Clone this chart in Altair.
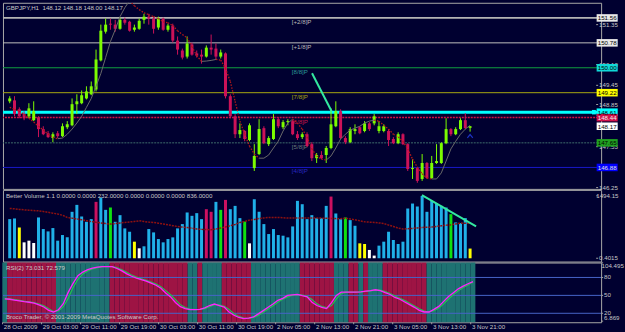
import altair as alt
import pandas as pd

BG = "#000030"
FONT = "Liberation Sans"
FS = 6.2
TXT = "#C8C8C8"
GRID = "#A8A8A8"

# ---------------- data ----------------
BARS = list(range(97))
OPEN = [148.95, 148.98, 148.70, 148.55, 148.48, 148.36, 148.45, 148.08, 147.95, 147.80,
        147.95, 147.86, 148.14, 148.20, 148.86, 148.89, 149.04, 149.17, 149.32, 150.23,
        151.13, 151.38, 151.35, 151.22, 151.50, 151.44, 151.19, 151.22, 151.50, 151.60,
        151.54, 151.26, 151.54, 151.19, 151.32, 150.85, 150.54, 150.35, 150.73, 150.45,
        150.41, 150.35, 150.63, 150.60, 150.35, 150.45, 149.11, 148.48, 147.92, 148.02,
        147.74, 146.86, 147.30, 148.11, 147.61, 147.77, 148.39, 148.14, 148.30, 148.33,
        147.92, 147.83, 147.92, 147.61, 147.17, 147.27, 147.27, 147.49, 148.17, 148.64,
        147.80, 147.67, 148.02, 148.14, 148.02, 148.26, 148.26, 148.02, 148.02, 148.02,
        147.77, 147.64, 147.92, 147.61, 146.83, 146.86, 146.52, 147.02, 146.55, 147.02,
        147.02, 147.64, 148.08, 147.92, 148.08, 148.36, 148.12]
HIGH = [149.11, 149.11, 148.76, 148.64, 148.89, 148.95, 148.48, 148.17, 148.02, 147.98,
        148.02, 148.26, 148.33, 149.04, 149.17, 149.29, 149.42, 149.57, 150.57, 151.35,
        151.54, 151.54, 151.50, 151.57, 151.57, 151.47, 151.35, 151.54, 151.69, 151.69,
        151.60, 151.60, 151.57, 151.38, 151.38, 150.98, 150.60, 150.98, 150.79, 150.54,
        150.57, 150.70, 151.04, 150.76, 150.57, 150.48, 149.17, 148.55, 148.26, 148.05,
        148.26, 147.61, 148.39, 148.17, 147.86, 148.55, 148.45, 148.36, 148.39, 148.36,
        148.02, 147.98, 147.98, 147.67, 147.33, 147.39, 147.55, 148.73, 148.95, 148.70,
        147.86, 148.14, 148.23, 148.17, 148.33, 148.30, 148.55, 148.33, 148.23, 148.08,
        147.83, 147.98, 147.95, 147.64, 147.14, 146.89, 147.30, 147.05, 147.24, 147.61,
        147.67, 148.42, 148.11, 148.14, 148.42, 148.58, 148.18]
LOW = [148.89, 148.48, 148.42, 148.36, 148.42, 148.33, 147.83, 147.89, 147.80, 147.67,
       147.80, 147.83, 148.08, 148.17, 148.55, 148.86, 149.01, 149.14, 149.26, 150.20,
       151.07, 151.19, 151.13, 151.19, 151.35, 151.13, 151.13, 151.19, 151.38, 151.35,
       151.07, 151.19, 151.16, 151.13, 150.79, 150.41, 150.26, 150.29, 150.38, 150.32,
       150.13, 150.32, 150.41, 150.26, 150.29, 149.04, 148.42, 147.80, 147.80, 147.70,
       147.70, 146.77, 147.27, 147.61, 147.55, 147.74, 148.11, 148.08, 148.20, 147.89,
       147.74, 147.77, 147.52, 147.08, 147.02, 147.14, 147.02, 147.45, 148.14, 147.77,
       147.61, 147.64, 147.92, 147.92, 147.98, 148.02, 148.20, 147.95, 147.98, 147.55,
       147.61, 147.61, 147.58, 146.77, 146.52, 146.40, 146.46, 146.52, 146.52, 146.99,
       146.99, 147.61, 147.86, 147.89, 148.05, 148.08, 148.00]
CLOSE = [149.04, 148.55, 148.48, 148.42, 148.73, 148.64, 148.08, 147.92, 147.83, 147.92,
         147.86, 148.17, 148.23, 148.86, 148.95, 149.14, 149.26, 149.42, 150.26, 151.16,
         151.35, 151.35, 151.22, 151.50, 151.41, 151.16, 151.26, 151.47, 151.60, 151.54,
         151.22, 151.54, 151.19, 151.32, 150.85, 150.57, 150.32, 150.76, 150.41, 150.38,
         150.35, 150.63, 150.57, 150.35, 150.48, 149.11, 148.48, 147.92, 148.05, 147.77,
         148.20, 147.24, 148.08, 147.64, 147.80, 148.39, 148.17, 148.30, 148.33, 147.92,
         147.80, 147.92, 147.55, 147.17, 147.27, 147.17, 147.49, 148.23, 148.64, 147.80,
         147.67, 148.08, 148.08, 147.95, 148.26, 148.08, 148.48, 148.17, 148.17, 147.74,
         147.64, 147.92, 147.61, 146.83, 146.86, 146.46, 147.02, 146.55, 147.02, 147.08,
         147.64, 148.08, 147.92, 148.08, 148.36, 148.11, 148.17]
TREND_MA = [148.76, 148.70, 148.64, 148.54, 148.42, 148.30, 148.17, 148.05, 147.92, 147.83,
            147.78, 147.80, 147.92, 148.08, 148.27, 148.48, 148.76, 149.04, 149.42, 149.82,
            150.32, 150.82, 151.19, 151.60, 151.88, 152.10, 151.94, 151.82, 151.72, 151.66,
            151.60, 151.54, 151.44, 151.41, 151.32, 151.16, 151.04, 150.94, 150.66, 150.38,
            150.20, 150.21, 150.23, 150.26, 150.24, 149.98, 149.57, 148.95, 148.33, 147.92,
            147.55, 147.30, 147.17, 147.17, 147.27, 147.49, 147.70, 148.02, 148.27, 148.39,
            148.27, 148.08, 147.83, 147.46, 147.24, 147.14, 147.11, 147.24, 147.49, 147.77,
            147.92, 148.05, 148.11, 148.17, 148.27, 148.33, 148.36, 148.33, 148.20, 148.08,
            147.92, 147.83, 147.70, 147.46, 147.14, 146.89, 146.68, 146.55, 146.52, 146.52,
            146.71, 147.08, 147.46, 147.70, 147.92, 148.08, 148.20]

VOLUME = [937, 953, 738, 381, 421, 365, 977, 699, 643, 723,
          421, 556, 500, 1112, 1278, 1000, 873, 937, 1350, 1453,
          1159, 1215, 873, 1032, 715, 635, 397, 238, 286, 699,
          619, 460, 381, 460, 500, 715, 818, 1096, 1016, 1080,
          937, 1175, 1112, 1350, 1159, 1397, 1175, 1254, 961, 881,
          357, 1413, 1112, 818, 580, 699, 556, 540, 500, 762,
          1374, 1294, 937, 1032, 961, 961, 1254, 1477, 1072, 937,
          977, 913, 778, 357, 341, 199, 64, 302, 397, 635,
          437, 341, 397, 1191, 1310, 1239, 1490, 1112, 1374, 1318,
          1254, 1215, 1056, 858, 842, 961, 232]
VOL_CODES = "".join(["bbywww", "bbbbbbbbbbbb", "m", "bb", "g", "bbbb", "y", "w",
                     "bbbbbbbbbbbbb", "mm", "b", "g", "m", "bbb", "g", "w",
                     "bbbbbbbbbbbbbbbb", "m", "bb", "g", "bb", "yy", "ww",
                     "bbbbbbbbbbbbbbb", "g", "bbb", "y"])
VOL_MA = [1191, 1185, 1170, 1159, 1150, 1142, 1135, 1120, 1100, 1080,
          1060, 1030, 977, 960, 940, 921, 900, 880, 860, 845,
          830, 818, 830, 845, 858, 870, 880, 897, 880, 865,
          858, 840, 820, 800, 780, 760, 746, 735, 720, 699,
          692, 688, 683, 700, 722, 750, 778, 810, 858, 880,
          913, 930, 953, 965, 977, 977, 977, 970, 961, 961,
          961, 961, 961, 961, 961, 961, 957, 953, 949, 945,
          961, 940, 921, 897, 873, 865, 858, 845, 834, 794,
          762, 722, 699, 707, 715, 726, 738, 742, 746, 762,
          778, 790, 802, 822, 842, 840, 836]

RSI = [44, 43.5, 42, 40.8, 39.5, 38.5, 37, 34, 30.5, 25,
       22, 26, 36, 55, 70, 83, 89, 93, 95.5, 97.5,
       98.3, 98.3, 98, 95, 91, 86, 82, 79, 76.5, 74,
       70.5, 67, 62, 54, 47.5, 38, 31, 28, 26.3, 26.3,
       26.7, 29, 33, 35.5, 33, 30.5, 22, 16.7, 13, 11.1,
       12, 13.9, 19, 24.5, 30, 35.5, 41.7, 45, 50, 51,
       51.7, 49.5, 47.5, 38.5, 33, 30, 28, 38, 50, 55.5,
       55.5, 55.5, 55.5, 56, 57, 58, 59.4, 58, 54.5, 51.5,
       46.5, 43.5, 39, 34.5, 30, 25, 22.2, 22.2, 26.5, 31.5,
       40, 48, 54.5, 61, 65.5, 69.5, 73.031]
RSI_SIGNAL = [44.5, 44, 42.8, 41.5, 40.2, 39, 37.8, 35.5, 32.5, 27.5,
              23, 24, 31, 45, 63, 77, 86, 91, 94.3, 96.5,
              98, 98.3, 98.2, 96.5, 93, 88.5, 84, 80.5, 77.8, 75.2,
              72.3, 68.8, 64.5, 58, 51, 42.8, 34.5, 29.5, 27, 26.3,
              26.5, 27.8, 31, 34.3, 34.3, 31.8, 26.3, 19.4, 14.8, 12,
              11.5, 13, 16.5, 21.8, 27.3, 32.8, 38.6, 43.4, 47.5, 50.5,
              51.4, 50.6, 48.5, 43, 35.8, 31.5, 29, 33, 44, 52.8,
              55.5, 55.5, 55.5, 55.8, 56.5, 57.5, 58.7, 58.7, 56.3, 53,
              49, 45, 41.2, 36.8, 32.3, 27.5, 23.6, 22.2, 24.3, 29,
              35.8, 44, 51.3, 57.8, 63.3, 67.5, 72.579]
BAND_RUNS = [("t", 1), ("c", 10), ("t", 11), ("c", 16), ("t", 2), ("c", 1), ("t", 4),
             ("c", 6), ("t", 10), ("c", 7), ("t", 3), ("c", 2), ("t", 1), ("c", 1),
             ("t", 3), ("c", 9), ("t", 10)]

TIME_BARS = [0, 8, 16, 24, 32, 40, 48, 56, 64, 72, 80, 88, 96]
TIME_LABELS = ["28 Oct 2009", "29 Oct 03:00", "29 Oct 11:00", "29 Oct 19:00",
               "30 Oct 03:00", "30 Oct 11:00", "30 Oct 19:00", "2 Nov 05:00",
               "2 Nov 13:00", "2 Nov 21:00", "3 Nov 05:00", "3 Nov 13:00", "3 Nov 21:00"]

LEVEL_PRICES = [151.56, 150.78, 150.00, 149.22, 148.61, 148.44, 147.65, 146.88]
LEVEL_COLORS = ["#B4B4B4", "#C0C0C0", "#10A040", "#A8A810", "#00FFFF", "#D01446", "#3E6C6C", "#1818C8"]
LEVEL_WIDTHS = [1.8, 1, 1, 1, 3, 1.5, 1, 1]
LEVEL_DOTTED = [False, False, False, False, False, True, True, False]

MM_PRICES = [151.56, 150.78, 150.00, 149.22, 148.44, 147.65, 146.88]
MM_LABELS = ["[+2/8]P", "[+1/8]P", "[8/8]P", "[7/8]P", "[6/8]P", "[5/8]P", "[4/8]P"]
MM_COLORS = ["#B8B8B8", "#B8B8B8", "#2A9898", "#A8A010", "#C81446", "#6A7A7A", "#2828C0"]

BOX_PRICES = [151.56, 150.78, 150.00, 149.22, 148.61, 148.44, 148.17, 147.65, 146.88]
BOX_FILLS = ["#E8E8E8", "#E8E8E8", "#10D8D8", "#FFFF00", "#00FFFF", "#D0104A", "#FFFFFF", "#20A020", "#0000FF"]
BOX_TEXTS = ["#000000", "#000000", "#000000", "#000000", "#000000", "#F0F0F0", "#000000", "#000000", "#E0E0E0"]

PRICE_TICKS = [151.35, 150.10, 149.45, 148.85, 147.53, 146.25]
VOL_TICKS = [1494.15, 0.4015]
VOL_TICK_LABELS = ["1494.15", "0.4015"]
RSI_TICKS = [104.495, 80, 50, 20, 6.869]
RSI_TICK_LABELS = ["104.495", "80", "50", "20", "6.869"]
RSI_LEVELS = [80, 50, 20]

PRICE_TREND = {"x0": [63.04], "x1": [67.12], "y0": [149.83], "y1": [148.64]}
VOL_TREND = {"x0": [85.96], "x1": [97.25], "y0": [1510.6], "y1": [762.4]}

TITLE = "GBPJPY,H1\u00a0 148.12 148.18 148.00 148.17"
VOL_TITLE = "Better Volume 1.1 0.0000 0.0000 232.0000 0.0000 0.0000 0.0000 836.0000"
RSI_TITLE = "RSI(2) 73.031 72.579"
COPYRIGHT = "Broco Trader, \u00a9 2001-2009 MetaQuotes Software Corp."

# ---------------- layout constants ----------------
W = 601
H_MAIN, H_VOL, H_RSI = 187, 72, 60
XDOM = [-0.367, 122.286]
AX_LINE, TICK_END, LABEL_L, LABEL_R = 122.29, 122.70, 122.90, 126.95
BOX_X0, BOX_X1 = 122.39, 126.78
LABEL_X = 58.82

xs = alt.Scale(domain=XDOM, nice=False, zero=False)
ys_p = alt.Scale(domain=[146.209, 152.034], nice=False, zero=False)
ys_v = alt.Scale(domain=[-78.6, 1636.9], nice=False, zero=False)
ys_r = alt.Scale(domain=[5, 105], nice=False, zero=False)

UP, DOWN = "#7CFC00", "#CC1258"
VOLC = {"b": "#20B0E8", "m": "#CC1060", "g": "#10E010", "y": "#FFFF00", "w": "#FFFFFF"}


def X(f):
    return alt.X(f, scale=xs, axis=None)


def Yf(f, s):
    return alt.Y(f, scale=s, axis=None)


def value_axis(vals, labels, scale, long_right=(), top_flush=(), bottom_flush=()):
    """Right-hand price scale drawn as ticks + texts through the panel's own scales."""
    df = pd.DataFrame({"v": vals, "label": labels})
    df["t0"], df["t1"] = AX_LINE, TICK_END
    df["xl"], df["xr"] = LABEL_L, LABEL_R
    ticks = alt.Chart(df).mark_rule(color="#A0A0A0", clip=False).encode(
        x=X("t0:Q"), x2="t1:Q", y=Yf("v:Q", scale))
    layers = [ticks]
    for base in ("middle", "top", "bottom"):
        sel = [lab for lab in labels if (lab in top_flush and base == "top") or
               (lab in bottom_flush and base == "bottom") or
               (base == "middle" and lab not in top_flush and lab not in bottom_flush)]
        for right in (False, True):
            sub = df[df["label"].isin(sel) & (df["label"].isin(long_right) == right)]
            if len(sub) == 0:
                continue
            layers.append(alt.Chart(sub).mark_text(
                align="right" if right else "left", baseline=base, font=FONT, fontSize=FS,
                color=TXT, clip=False).encode(
                x=X("xr:Q" if right else "xl:Q"), y=Yf("v:Q", scale), text="label:N"))
    return layers


def note(text, y):
    return alt.Chart(pd.DataFrame({"t": [text]})).mark_text(
        align="left", baseline="middle", font=FONT, fontSize=FS, color=TXT).encode(
        x=alt.value(3), y=alt.value(y), text="t:N")


# ---------------- main price panel ----------------
candles = pd.DataFrame({"bar": BARS, "open": OPEN, "high": HIGH, "low": LOW, "close": CLOSE})
candles["col"] = [UP if c >= o else DOWN for o, c in zip(OPEN, CLOSE)]

lev = pd.DataFrame({"price": LEVEL_PRICES, "col": LEVEL_COLORS, "w": LEVEL_WIDTHS, "dot": LEVEL_DOTTED})
mm = pd.DataFrame({"price": MM_PRICES, "label": MM_LABELS, "col": MM_COLORS, "lx": LABEL_X})

seg = pd.DataFrame({"x0": BARS[:-1], "x1": BARS[1:], "y0": TREND_MA[:-1], "y1": TREND_MA[1:]})
seg["up"] = seg["y1"] >= seg["y0"]

boxes = pd.DataFrame({"price": BOX_PRICES, "fill": BOX_FILLS, "tcol": BOX_TEXTS,
                      "label": [f"{p:.2f}" for p in BOX_PRICES]})
boxes["x0"], boxes["x1"] = BOX_X0, BOX_X1
boxes["xc"] = (BOX_X0 + BOX_X1) / 2
boxes["top"] = boxes["price"] + 0.118
boxes["bot"] = boxes["price"] - 0.118

lev_solid = alt.Chart(lev[~lev["dot"]]).mark_rule().encode(
    y=Yf("price:Q", ys_p), color=alt.Color("col:N", scale=None),
    strokeWidth=alt.StrokeWidth("w:Q", scale=None))
lev_dot = alt.Chart(lev[lev["dot"]]).mark_rule(strokeDash=[2, 1]).encode(
    y=Yf("price:Q", ys_p), color=alt.Color("col:N", scale=None),
    strokeWidth=alt.StrokeWidth("w:Q", scale=None))
mm_text = alt.Chart(mm).mark_text(align="left", baseline="middle", dy=4, font=FONT, fontSize=FS).encode(
    x=X("lx:Q"), y=Yf("price:Q", ys_p), text="label:N", color=alt.Color("col:N", scale=None))
wicks = alt.Chart(candles).mark_rule(strokeWidth=1).encode(
    x=X("bar:Q"), y=Yf("low:Q", ys_p), y2="high:Q", color=alt.Color("col:N", scale=None))
bodies = alt.Chart(candles).mark_bar(size=3).encode(
    x=X("bar:Q"), y=Yf("open:Q", ys_p), y2="close:Q", color=alt.Color("col:N", scale=None))
ma_up = alt.Chart(seg[seg["up"]]).mark_rule(strokeWidth=1, color="#6A6A6A", clip=True).encode(
    x=X("x0:Q"), x2="x1:Q", y=Yf("y0:Q", ys_p), y2="y1:Q")
ma_dn = alt.Chart(seg[~seg["up"]]).mark_rule(strokeWidth=1.3, color="#B41818", strokeDash=[1.5, 1.5], clip=True).encode(
    x=X("x0:Q"), x2="x1:Q", y=Yf("y0:Q", ys_p), y2="y1:Q")
ptrend = alt.Chart(pd.DataFrame(PRICE_TREND)).mark_rule(strokeWidth=2, color="#33E8A0").encode(
    x=X("x0:Q"), x2="x1:Q", y=Yf("y0:Q", ys_p), y2="y1:Q")
caret = alt.Chart(pd.DataFrame({"bar": [96], "p": [147.86]})).mark_point(
    shape="M-1,0.6L0,-0.6L1,0.6", filled=False, size=30, color="#2848FF", strokeWidth=1.2).encode(
    x=X("bar:Q"), y=Yf("p:Q", ys_p))
box_rect = alt.Chart(boxes).mark_rect(clip=False).encode(
    x=X("x0:Q"), x2="x1:Q", y=Yf("top:Q", ys_p), y2="bot:Q", color=alt.Color("fill:N", scale=None))
box_txt = alt.Chart(boxes).mark_text(font=FONT, fontSize=FS, align="center", baseline="middle", dy=0.5).encode(
    x=X("xc:Q"), y=Yf("price:Q", ys_p), text="label:N", color=alt.Color("tcol:N", scale=None))
handle = alt.Chart(pd.DataFrame({"x0": [121.41], "x1": [122.22], "top": [148.68], "bot": [148.54]})).mark_rect(
    color="#00FFFF").encode(x=X("x0:Q"), x2="x1:Q", y=Yf("top:Q", ys_p), y2="bot:Q")

main = alt.layer(
    lev_solid, lev_dot, mm_text, wicks, bodies, ma_up, ma_dn, ptrend, caret,
    *value_axis(PRICE_TICKS, [f"{v:.2f}" for v in PRICE_TICKS], ys_p),
    handle, box_rect, box_txt, note(TITLE, 5)
).properties(width=W, height=H_MAIN)

# ---------------- volume panel ----------------
vol = pd.DataFrame({"bar": BARS, "v": VOLUME, "ma": VOL_MA, "col": [VOLC[c] for c in VOL_CODES]})
vbars = alt.Chart(vol).mark_bar(size=3).encode(
    x=X("bar:Q"), y=Yf("v:Q", ys_v), color=alt.Color("col:N", scale=None))
vma = alt.Chart(vol).mark_line(color="#8E1010", strokeWidth=1.5, strokeDash=[2, 1]).encode(
    x=X("bar:Q"), y=Yf("ma:Q", ys_v))
vtrend = alt.Chart(pd.DataFrame(VOL_TREND)).mark_rule(strokeWidth=2, color="#33E8A0").encode(
    x=X("x0:Q"), x2="x1:Q", y=Yf("y0:Q", ys_v), y2="y1:Q")
volume = alt.layer(
    vbars, vma, vtrend,
    *value_axis(VOL_TICKS, VOL_TICK_LABELS, ys_v, long_right=("1494.15",)),
    note(VOL_TITLE, 6.5)
).properties(width=W, height=H_VOL)

# ---------------- RSI panel ----------------
band_codes = []
for code, n in BAND_RUNS:
    band_codes += [code] * n
bands = pd.DataFrame({"bar": BARS, "code": band_codes})
bands["b0"] = bands["bar"] - 0.5
bands["b1"] = bands["bar"] + 0.5
bands["lo"], bands["hi"] = 5, 105
bands["col"] = bands["code"].map({"t": "#1E7272", "c": "#9E1444"})

rbands = alt.Chart(bands).mark_rect().encode(
    x=X("b0:Q"), x2="b1:Q", y=Yf("lo:Q", ys_r), y2="hi:Q", color=alt.Color("col:N", scale=None))
rlev = alt.Chart(pd.DataFrame({"lvl": RSI_LEVELS})).mark_rule(color="#4664C8", strokeWidth=1).encode(
    y=Yf("lvl:Q", ys_r))
rsi_df = pd.DataFrame({"bar": BARS, "rsi": RSI, "sig": RSI_SIGNAL})
rsig = alt.Chart(rsi_df).mark_line(color="#22C050", strokeWidth=1.2).encode(
    x=X("bar:Q"), y=Yf("sig:Q", ys_r))
rline = alt.Chart(rsi_df).mark_line(color="#FF22FF", strokeWidth=1.3).encode(
    x=X("bar:Q"), y=Yf("rsi:Q", ys_r))

# time scale under the RSI panel, drawn through the same x scale
tdf = pd.DataFrame({"bar": TIME_BARS, "label": TIME_LABELS})
tdf["tick_x"] = tdf["bar"] - 0.45
tdf["lab_x"] = tdf["bar"] - 0.2
tdf["t_top"], tdf["t_bot"], tdf["t_lab"] = 5, 1.6, -3.6
tticks = alt.Chart(tdf).mark_rule(color="#A0A0A0", clip=False).encode(
    x=X("tick_x:Q"), y=Yf("t_top:Q", ys_r), y2="t_bot:Q")
tlabels = alt.Chart(tdf).mark_text(align="left", baseline="middle", font=FONT, fontSize=FS,
                                   color=TXT, clip=False).encode(
    x=X("lab_x:Q"), y=Yf("t_lab:Q", ys_r), text="label:N")

rsi = alt.layer(
    rbands, rlev, rsig, rline, tticks, tlabels,
    *value_axis(RSI_TICKS, RSI_TICK_LABELS, ys_r, long_right=("104.495",),
                top_flush=("104.495",), bottom_flush=("6.869",)),
    note(RSI_TITLE, 5.3), note(COPYRIGHT, 54.5)
).properties(width=W, height=H_RSI)

chart = alt.vconcat(main, volume, rsi, spacing=1, bounds="flush").properties(
    background=BG, padding={"left": 1, "top": 1, "right": 0, "bottom": 0}
).configure_view(fill=BG, stroke=GRID, strokeWidth=1)

chart.save("out.html", embed_options={"renderer": "svg", "actions": False})
